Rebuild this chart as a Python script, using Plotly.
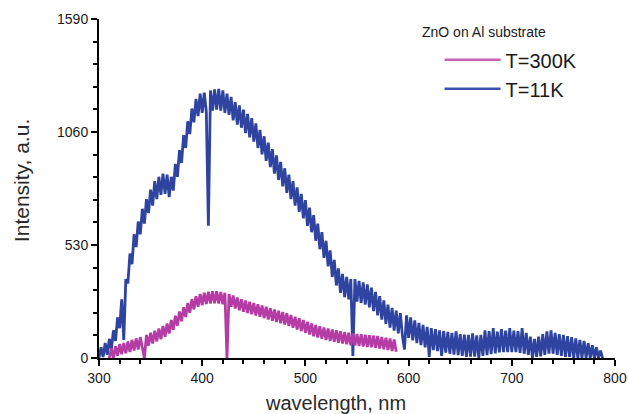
import numpy as np
import plotly.graph_objects as go

# wavelength grids (nm)
wl_11K = np.arange(300, 790, 2)
wl_300K = np.arange(310, 590, 2)

# T=11K intensity (a.u.) at 2 nm steps (noisy band)
int_11K = [
    0, 50, 5, 70, 15, 90, 40, 130, 80, 190,
    140, 275, 85, 370, 350, 490, 440, 580, 520, 640,
    580, 700, 630, 745, 680, 790, 715, 830, 745, 850,
    765, 865, 770, 860, 755, 850, 785, 910, 850, 975,
    915, 1045, 985, 1110, 1050, 1170, 1105, 1215, 1135, 1240,
    1150, 1245, 1155, 620, 1255, 1160, 1260, 1165, 1262, 1160,
    1255, 1150, 1240, 1140, 1225, 1115, 1200, 1095, 1185, 1080,
    1165, 1055, 1145, 1035, 1125, 1015, 1100, 985, 1070, 955,
    1040, 925, 1010, 895, 980, 865, 950, 835, 920, 805,
    890, 775, 860, 745, 830, 715, 800, 685, 770, 655,
    740, 620, 705, 590, 670, 550, 630, 510, 590, 470,
    550, 430, 505, 380, 460, 340, 420, 305, 395, 285,
    380, 275, 370, 10, 370, 265, 362, 258, 355, 250,
    345, 238, 330, 220, 310, 200, 290, 180, 270, 160,
    250, 142, 235, 128, 222, 115, 210, 105, 40, 200,
    95, 190, 83, 176, 70, 165, 60, 155, 50, 146,
    5, 140, 37, 135, 32, 130, 10, 127, 25, 123,
    20, 118, 16, 125, 13, 112, 10, 110, 5, 108,
    7, 115, 6, 106, 0, 108, 10, 130, 14, 126,
    18, 140, 22, 124, 26, 135, 28, 128, 28, 140,
    28, 128, 28, 126, 24, 140, 20, 118, 15, 100,
    0, 90, 5, 100, 8, 112, 15, 125, 20, 130,
    20, 118, 15, 112, 10, 108, 5, 102, 5, 98,
    0, 92, 0, 85, 0, 80, 0, 70, 0, 60,
    0, 50, 0, 35, 0,
]

# T=300K intensity (a.u.) at 2 nm steps (noisy band)
int_300K = [
    0, 45, 0, 55, 10, 65, 18, 70, 22, 78,
    28, 85, 35, 92, 40, 98, 48, 0, 108, 58,
    118, 68, 128, 78, 138, 88, 150, 100, 162, 115,
    178, 132, 198, 152, 218, 172, 238, 192, 258, 212,
    276, 228, 290, 240, 300, 248, 306, 253, 311, 256,
    313, 257, 313, 256, 310, 252, 306, 0, 300, 240,
    293, 232, 284, 224, 276, 217, 270, 211, 264, 205,
    258, 199, 252, 193, 246, 187, 240, 181, 234, 175,
    228, 169, 222, 163, 216, 157, 210, 150, 202, 142,
    194, 134, 186, 126, 178, 118, 170, 110, 162, 102,
    155, 96, 149, 90, 143, 84, 138, 80, 134, 76,
    130, 72, 126, 68, 122, 64, 118, 60, 115, 58,
    113, 56, 111, 54, 109, 52, 107, 50, 105, 48,
    103, 45, 99, 41, 95, 37, 91, 33, 87, 29,
]

x_ticks = [300, 400, 500, 600, 700, 800]
y_ticks = [0, 530, 1060, 1590]

BLUE = "#2e44a0"
PINK = "#b43ca4"
FONT = "Liberation Sans, Arial, sans-serif"

fig = go.Figure()
fig.add_trace(go.Scatter(x=wl_11K, y=int_11K, mode="lines", name="T=11K",
                         line=dict(color=BLUE, width=2.8), showlegend=False))
fig.add_trace(go.Scatter(x=wl_300K, y=int_300K, mode="lines", name="T=300K",
                         line=dict(color=PINK, width=2.8), showlegend=False))
# legend entries (order: T=300K then T=11K)
fig.add_trace(go.Scatter(x=[None], y=[None], mode="lines", name="T=300K",
                         line=dict(color="#c463b4", width=2.5)))
fig.add_trace(go.Scatter(x=[None], y=[None], mode="lines", name="T=11K",
                         line=dict(color="#3a50b0", width=2.5)))

fig.update_layout(
    width=628, height=414,
    margin=dict(l=99, r=13, t=19, b=56),
    paper_bgcolor="white", plot_bgcolor="white",
    font=dict(family=FONT, color="#1a1a1a"),
    legend=dict(x=0.660, y=0.937, xanchor="left", yanchor="top",
                font=dict(size=20, color="#1a1a1a"),
                bgcolor="rgba(0,0,0,0)", itemwidth=56, tracegroupgap=0),
    annotations=[
        dict(text="ZnO on Al substrate", x=0.622, y=0.963,
             xref="paper", yref="paper", xanchor="left", yanchor="middle",
             showarrow=False, font=dict(size=14, color="#1a1a1a")),
        dict(text="Intensity, a.u.", x=-0.151, y=0.522, textangle=-90,
             xref="paper", yref="paper", xanchor="center", yanchor="middle",
             showarrow=False, font=dict(size=21, color="#2a2a2a")),
        dict(text="wavelength, nm", x=0.459, y=-0.1327,
             xref="paper", yref="paper", xanchor="center", yanchor="middle",
             showarrow=False, font=dict(size=20, color="#2a2a2a")),
    ],
)
fig.update_xaxes(range=[300, 800], tickvals=x_ticks, ticks="outside", ticklen=6,
                 tickwidth=2, tickcolor="black", showline=True, linecolor="black",
                 linewidth=2, showgrid=False, zeroline=False, automargin=False,
                 tickfont=dict(size=14, color="#1a1a1a"),
                 minor=dict(dtick=20, ticks="outside", ticklen=4, tickwidth=1.5,
                            tickcolor="black", showgrid=False))
fig.update_yaxes(range=[0, 1590], tickvals=y_ticks, ticks="outside", ticklen=6,
                 tickwidth=2, tickcolor="black", showline=True, linecolor="black",
                 linewidth=2, showgrid=False, zeroline=False, automargin=False,
                 tickfont=dict(size=14, color="#1a1a1a"),
                 minor=dict(dtick=106, ticks="outside", ticklen=4, tickwidth=1.5,
                            tickcolor="black", showgrid=False))

fig.write_html("out.html", config={"displayModeBar": False},
               post_script="document.body.style.margin='0';document.body.style.overflow='hidden';")
